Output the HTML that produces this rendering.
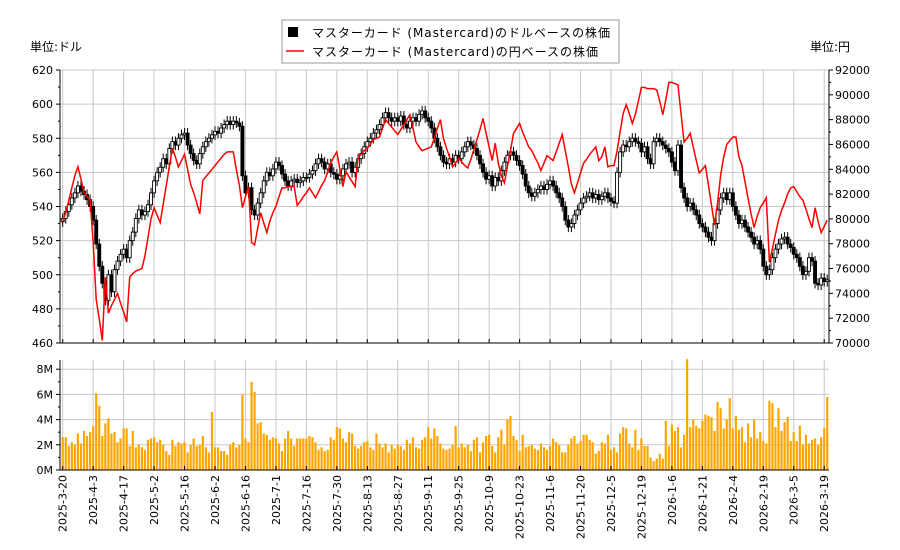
<!DOCTYPE html>
<html><head><meta charset="utf-8">
<style>
html,body{margin:0;padding:0;background:#fff;}
svg{display:block;font-family:"DejaVu Sans","Noto Sans CJK JP",sans-serif;}
</style></head>
<body>
<svg id="chart" width="900" height="550" viewBox="0 0 900 550" xmlns="http://www.w3.org/2000/svg">
<rect x="0" y="0" width="900" height="550" fill="#fff"/>
<g id="grid"></g>
<g id="vol"></g>
<g id="candles"></g>
<path id="yenline" fill="none" stroke="#ff0000" stroke-width="1.5"/>
<g id="axes"></g>
<text x="30" y="51" font-size="12">単位:ドル</text>
<text x="810" y="51" font-size="12">単位:円</text>
<g>
<rect x="282" y="20" width="337" height="43" fill="#fff" stroke="#999"/>
<rect x="288" y="27" width="10" height="10" fill="#000"/>
<text x="312" y="37" font-size="12" textLength="298">マスターカード (Mastercard)のドルベースの株価</text>
<line x1="286" y1="51" x2="304" y2="51" stroke="#ff0000" stroke-width="1.5"/>
<text x="312" y="56" font-size="12" textLength="286">マスターカード (Mastercard)の円ベースの株価</text>
</g>
</svg>
<script>
const closes = [533,537,541,545,548,552,549,547,544,540,
532,518,505,495,485,500,490,503,508,512,
515,510,520,525,533,538,535,537,541,548,
555,560,563,568,565,574,578,576,580,582,
583,576,571,567,565,571,575,578,580,582,
584,583,586,588,590,588,590,589,587,558,
548,551,538,535,542,548,555,560,558,562,
566,564,559,555,552,555,556,554,555,557,
557,559,561,565,568,566,562,565,560,559,
556,558,562,565,566,560,563,568,571,575,
578,580,583,585,588,592,595,592,590,592,
590,593,588,586,590,592,590,594,596,592,
590,586,580,575,570,566,565,568,566,570,
568,572,575,578,576,574,570,565,560,556,
558,552,557,555,561,566,570,572,570,567,
564,559,552,548,546,548,550,552,550,553,
555,552,548,545,540,532,528,530,535,538,
542,545,546,548,545,547,544,546,548,545,
543,542,560,572,576,575,578,580,578,577,
572,575,568,565,578,580,578,576,574,572,
566,561,576,551,545,540,542,538,535,530,
528,525,522,520,530,538,545,548,544,548,
540,535,530,532,528,525,522,518,520,515,
505,500,503,510,515,518,521,522,518,516,
512,510,505,500,502,510,508,495,494,498,
496,497];
const yenK = [79.8,80.5,81.5,82.5,83.5,84.2,83.2,82.1,81.8,81.5,
78.1,73.5,71.9,70.2,75.3,72.4,73.0,73.5,74.0,73.2,
72.5,71.7,75.3,75.6,75.8,75.9,76.0,77.0,78.5,80.0,
80.9,80.3,79.7,81.2,82.7,84.2,85.7,85.0,84.2,84.7,
85.2,84.0,82.8,82.1,81.3,80.4,83.1,83.4,83.7,84.0,
84.3,84.6,84.9,85.2,85.4,85.4,85.4,84.0,82.7,80.9,
81.8,82.6,78.1,77.9,79.2,80.5,79.7,78.9,79.8,80.5,
81.0,81.8,82.5,82.5,82.6,82.6,82.6,81.1,81.4,81.8,
82.1,82.5,82.1,81.7,82.2,82.7,83.1,83.8,84.5,85.0,
85.4,84.0,82.6,83.8,83.4,83.0,82.6,85.0,85.2,85.5,
85.7,86.0,86.4,86.5,86.6,87.3,88.0,87.7,87.4,87.1,
86.8,87.2,87.6,88.0,88.4,87.3,86.2,85.8,85.5,85.6,
85.7,85.8,86.5,87.3,88.0,86.5,85.7,85.0,84.2,84.5,
84.9,84.6,84.3,84.1,84.8,85.6,86.4,87.2,88.1,86.9,
85.8,84.7,86.1,84.5,83.5,82.9,84.2,85.5,86.9,87.3,
87.7,87.0,86.4,85.8,85.5,85.0,84.5,83.9,84.5,85.1,
84.9,84.7,85.4,86.1,86.8,85.5,84.2,82.8,82.1,82.9,
83.7,84.5,84.8,85.2,85.5,85.8,84.7,85.0,85.8,84.2,
84.3,84.3,85.5,87.0,88.5,89.2,88.5,87.7,88.4,89.5,
90.6,90.6,90.5,90.5,90.5,90.4,89.5,88.4,89.6,91.0,
91.0,90.9,90.8,88.5,86.2,86.5,86.9,85.8,84.7,83.7,
84.0,84.3,82.7,81.1,79.5,81.3,83.5,85.0,86.0,86.3,
86.6,86.6,85.0,84.3,83.0,81.7,80.4,79.3,80.2,80.9,
81.3,81.7,76.5,77.6,78.8,79.9,80.7,81.3,82.0,82.5,
82.6,82.2,81.8,81.5,80.8,80.0,79.3,80.9,79.8,78.9,
79.4,79.9];
const volumesM = [2.6,2.6,1.9,2.2,2.0,2.9,2.1,3.1,2.7,3.0,
3.5,6.1,5.1,2.7,3.7,4.1,2.9,3.0,2.2,2.5,
3.3,3.3,1.9,3.1,1.8,2.0,1.8,1.6,2.4,2.5,
2.6,2.2,2.4,2.0,1.5,1.2,2.4,1.9,2.2,2.1,
2.2,1.4,2.0,2.5,1.9,2.0,2.7,1.8,1.4,4.6,
1.8,1.8,1.5,1.5,1.2,2.0,2.2,1.8,2.0,6.0,
2.5,2.2,7.0,6.2,3.7,3.8,2.9,2.8,2.4,2.6,
2.5,2.1,1.5,2.5,3.1,2.5,1.9,2.5,2.5,2.5,
2.5,2.7,2.6,2.2,1.6,1.8,1.5,1.6,2.6,2.4,
3.4,3.3,2.5,2.2,3.0,2.9,1.9,1.7,1.9,2.2,
2.3,1.8,1.6,2.9,2.1,1.8,2.1,1.4,2.0,1.7,
2.0,1.9,1.6,2.4,2.1,2.6,1.8,1.7,2.4,2.6,
3.4,2.5,3.3,2.7,2.1,1.7,1.6,1.7,2.0,3.5,
1.8,2.1,1.8,2.0,1.5,2.4,2.6,1.4,2.2,2.7,
2.8,1.9,1.4,2.6,3.2,2.0,4.0,4.3,2.7,2.4,
1.5,2.8,1.8,1.9,2.0,1.7,1.6,2.1,1.8,1.6,
1.9,2.5,2.2,2.0,1.4,1.4,2.0,2.5,2.7,2.1,
2.3,2.8,2.8,2.4,2.2,1.3,1.5,2.2,2.1,2.8,
1.6,1.8,1.4,2.9,3.4,3.3,2.1,1.8,3.2,1.6,
2.5,1.9,1.9,1.0,0.7,0.9,1.3,0.9,3.9,1.9,
3.6,3.1,3.4,1.8,2.8,8.8,3.4,4.0,3.5,3.3,
3.9,4.4,4.3,4.2,3.1,5.4,4.9,3.3,4.0,5.7,
3.3,4.3,3.2,3.4,2.2,3.7,2.6,4.0,2.5,3.0,
2.3,2.1,5.5,5.3,3.4,4.9,3.1,3.8,4.2,2.3,
3.0,2.3,3.5,2.0,2.8,2.1,2.4,2.5,2.0,2.6,
3.3,5.8];
const dateLabels = ["2025-3-20","2025-4-3","2025-4-17","2025-5-2","2025-5-16","2025-6-2","2025-6-16","2025-7-1","2025-7-16","2025-7-30","2025-8-13","2025-8-27","2025-9-11","2025-9-25","2025-10-9","2025-10-23","2025-11-6","2025-11-20","2025-12-5","2025-12-19","2026-1-6","2026-1-21","2026-2-4","2026-2-19","2026-3-5","2026-3-19"];
const priceTicks = [460,480,500,520,540,560,580,600,620];
const yenTicks = [70000,72000,74000,76000,78000,80000,82000,84000,86000,88000,90000,92000];
const volTicks = [0,2,4,6,8];

const NS="http://www.w3.org/2000/svg";
const L=60,R=829,T=70,B=343,VT=360,VB=470;
function xS(i){return 62.7+i*3.046;}
function yP(p){return T+(620-p)*(B-T)/160;}
function yY(v){return B-(v-70000)*(B-T)/22000;}
function yV(m){return VB-m*12.6;}
function mk(tag,attrs,parent){const e=document.createElementNS(NS,tag);for(const k in attrs)e.setAttribute(k,attrs[k]);parent.appendChild(e);return e;}
const grid=document.getElementById('grid'),axes=document.getElementById('axes');

priceTicks.forEach(p=>{const l=mk('line',{x1:L,x2:R,y1:yP(p),y2:yP(p),stroke:'#c8c8c8'},grid);

});
volTicks.forEach(v=>{const l=mk('line',{x1:L,x2:R,y1:yV(v),y2:yV(v),stroke:'#c8c8c8'},grid);

});
dateLabels.forEach((d,k)=>{const x=xS(k*10);
const g1=mk('line',{x1:x,x2:x,y1:T,y2:B,stroke:'#c8c8c8'},grid);


const g2=mk('line',{x1:x,x2:x,y1:VT,y2:VB,stroke:'#c8c8c8'},grid);


const t=mk('text',{x:0,y:0,'font-size':11,'text-anchor':'end',transform:`translate(${x+4},475) rotate(-90)`},axes);
t.textContent=d;


mk('line',{x1:x,x2:x,y1:B-4,y2:B,stroke:'#000'},axes);
mk('line',{x1:x,x2:x,y1:VB-4,y2:VB,stroke:'#000'},axes);
});

const vol=document.getElementById('vol');
volumesM.forEach((v,i)=>{const r=mk('rect',{x:xS(i)-1.1,y:yV(v),width:2.2,height:VB-yV(v),fill:'#ffa500'},vol);

});

const cg=document.getElementById('candles');
closes.forEach((c,i)=>{const o=i>0?closes[i-1]:c-2;const up=c>=o;
const hi=Math.max(o,c)+3,lo=Math.min(o,c)-3;const x=xS(i);
const w=mk('line',{x1:x,x2:x,y1:yP(hi),y2:yP(lo),stroke:'#000','stroke-width':1},cg);


const top=yP(Math.max(o,c)),bot=yP(Math.min(o,c));
const b=mk('rect',{x:x-1.5,y:top,width:3,height:Math.max(bot-top,1),fill:up?'#fff':'#000',stroke:'#000','stroke-width':0.9},cg);

});

document.getElementById('yenline').setAttribute('d',yenK.map((v,i)=>(i?'L':'M')+xS(i).toFixed(1)+','+yY(v*1000).toFixed(1)).join(''));

[[L,T,L,B],[R,T,R,B],[L,B,R,B],[L,VT,L,VB],[L,VB,R,VB]].forEach(a=>mk('line',{x1:a[0],y1:a[1],x2:a[2],y2:a[3],stroke:'#000'},axes));
priceTicks.forEach((p,k)=>{const y=yP(p);mk('line',{x1:L-4,x2:L,y1:y,y2:y,stroke:'#000'},axes);
if(k<priceTicks.length-1)mk('line',{x1:L-2,x2:L,y1:yP(p+10),y2:yP(p+10),stroke:'#000'},axes);
const t=mk('text',{x:L-7,y:y+4,'font-size':11,'text-anchor':'end'},axes);t.textContent=p;

});
yenTicks.forEach((v,k)=>{const y=yY(v);mk('line',{x1:R,x2:R+4,y1:y,y2:y,stroke:'#000'},axes);
if(k<yenTicks.length-1)mk('line',{x1:R,x2:R+2,y1:yY(v+1000),y2:yY(v+1000),stroke:'#000'},axes);
const t=mk('text',{x:R+6,y:y+4,'font-size':11},axes);t.textContent=v;

});
volTicks.forEach((v,k)=>{const y=yV(v);mk('line',{x1:L-4,x2:L,y1:y,y2:y,stroke:'#000'},axes);
if(k<volTicks.length-1)mk('line',{x1:L-2,x2:L,y1:yV(v+1),y2:yV(v+1),stroke:'#000'},axes);
const t=mk('text',{x:L-7,y:y+4,'font-size':11,'text-anchor':'end'},axes);t.textContent=v+'M';

});
</script>
</body></html>
